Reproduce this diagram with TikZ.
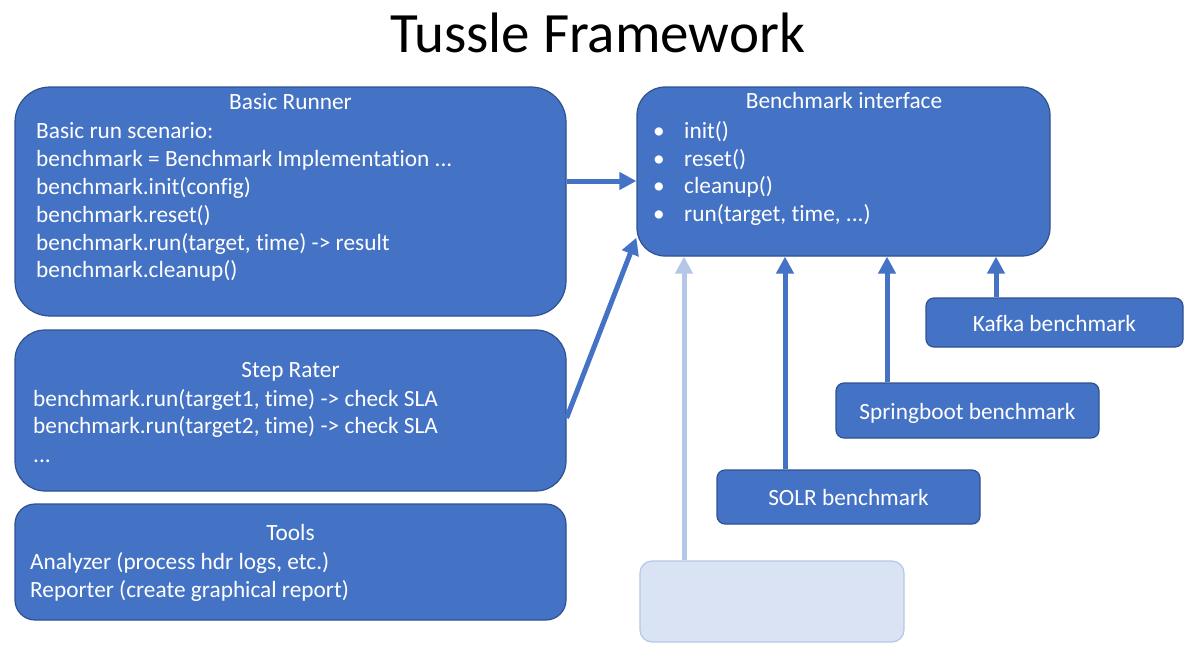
\documentclass[tikz,border=0pt]{standalone}
\usepackage{fontspec}
\setmainfont{Carlito}[Ligatures={NoCommon}]
\usetikzlibrary{arrows.meta,calc}
\definecolor{accblue}{HTML}{4472C4}
\definecolor{edgeblue}{HTML}{2F528F}
\definecolor{paleblue}{HTML}{DAE3F3}
\definecolor{paleedge}{HTML}{B4C7E7}
\newcommand\tfBody{\fontsize{23.3pt}{27.8pt}\selectfont}
\newcommand\tfTitle{\fontsize{57pt}{64pt}\selectfont}
\begin{document}
\begin{tikzpicture}[x=1pt,y=-1pt,
  bigbox/.style={draw=edgeblue, line width=1.2pt, fill=accblue, inner sep=0pt},
  smallbox/.style={draw=edgeblue, line width=1.2pt, fill=accblue, inner sep=0pt,
     rounded corners=8pt, text=white, font=\tfBody, text height=21pt, text depth=4pt},
  palebox/.style={draw=paleedge, line width=1.2pt, fill=paleblue, inner sep=0pt, rounded corners=12pt},
  txt/.style={text=white, inner sep=0pt, font=\tfBody, anchor=base west},
  ctxt/.style={text=white, inner sep=0pt, font=\tfBody, anchor=base},
  arr/.style={draw=accblue, line width=5pt, -{Triangle[length=17pt,width=17pt]}},
  palearr/.style={draw=paleedge, line width=5pt, -{Triangle[length=17pt,width=17pt]}}]
\useasboundingbox (0,0) rectangle (1200,653);

% title
\node[inner sep=0pt, anchor=base, font=\tfTitle] (title) at (597.5,52) {Tussle Framework};

% boxes
\node[bigbox, rounded corners=35pt, minimum width=551pt, minimum height=229pt] (br) at (290.5,201.5) {};
\node[bigbox, rounded corners=30pt, minimum width=551pt, minimum height=161pt] (sr) at (290.5,410.5) {};
\node[bigbox, rounded corners=20pt, minimum width=551pt, minimum height=116pt] (tools) at (290.5,562) {};
\node[bigbox, rounded corners=28pt, minimum width=413pt, minimum height=169pt] (bi) at (843.5,171.5) {};
\node[smallbox, minimum width=257pt, minimum height=49pt] (kafka) at (1054.5,322.5) {Kafka benchmark};
\node[smallbox, minimum width=263pt, minimum height=55pt] (spring) at (967.5,410.5) {Springboot benchmark};
\node[smallbox, minimum width=263pt, minimum height=54pt] (solr) at (848.5,497) {SOLR benchmark};
\node[palebox, minimum width=264pt, minimum height=81pt] (empty) at (772,601.5) {};

% Basic Runner text
\node[ctxt] (brt) at (290.5,109) {Basic Runner};
\node[txt] (br1) at (36,138) {Basic run scenario:};
\node[txt] (br2) at (36,166) {benchmark = Benchmark Implementation ...};
\node[txt] (br3) at (36,194) {benchmark.init(config)};
\node[txt] (br4) at (36,222) {benchmark.reset()};
\node[txt] (br5) at (36,250) {benchmark.run(target, time) -> result};
\node[txt] (br6) at (36,277) {benchmark.cleanup()};

% Benchmark interface text
\node[ctxt] (bit) at (844,108) {Benchmark interface};
\foreach \yy/\tx [count=\i] in {138/init(), 166/reset(), 193/cleanup(), 221/{run(target, time, ...)}}{
  \node[ctxt] (bul\i) at (659,\yy) {•};
  \node[txt] (bil\i) at (684,\yy) {\tx};
}

% Step Rater text
\node[ctxt] (srt) at (290.5,377) {Step Rater};
\node[txt] (sr1) at (33,406) {benchmark.run(target1, time) -> check SLA};
\node[txt] (sr2) at (33,433) {benchmark.run(target2, time) -> check SLA};
\node[txt] (sr3) at (33,462) {...};

% Tools text
\node[ctxt] (tt) at (290.5,540) {Tools};
\node[txt] (t1) at (30,569) {Analyzer (process hdr logs, etc.)};
\node[txt] (t2) at (30,597) {Reporter (create graphical report)};

% helper coordinates
\coordinate (ya) at (0,181);
\coordinate (xe) at (684,0);
\coordinate (xs) at (785,0);
\coordinate (xp) at (887,0);
\coordinate (xk) at (996,0);

% connectors
\draw[arr] (br.east |- ya) -- (bi.west |- ya);
\draw[arr] ([yshift=-7.5pt]sr.east) -- ([yshift=19pt]bi.south west);
\draw[palearr] (empty.north -| xe) -- (bi.south -| xe);
\draw[arr] (solr.north -| xs) -- (bi.south -| xs);
\draw[arr] (spring.north -| xp) -- (bi.south -| xp);
\draw[arr] (kafka.north -| xk) -- (bi.south -| xk);
\end{tikzpicture}
\end{document}
